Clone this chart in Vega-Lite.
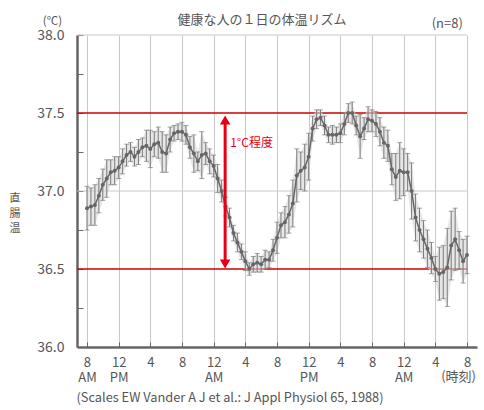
{
  "$schema": "https://vega.github.io/schema/vega-lite/v6.json",
  "description": "健康な人の1日の体温リズム",
  "autosize": "none",
  "width": 400,
  "height": 312,
  "padding": {"left": 77, "top": 35, "right": 7, "bottom": 63},
  "title": {
    "text": "健康な人の１日の体温リズム",
    "fontSize": 13,
    "fontWeight": "normal",
    "color": "#555",
    "anchor": "middle",
    "offset": -12,
    "dx": -15
  },
  "config": {
    "font": "Noto Sans CJK JP",
    "view": {"stroke": null}
  },
  "datasets": {
    "series": [
      {"hour": 8.0, "temp": 36.89, "sd": 0.14},
      {"hour": 8.5, "temp": 36.90, "sd": 0.12},
      {"hour": 9.0, "temp": 36.91, "sd": 0.13},
      {"hour": 9.5, "temp": 36.97, "sd": 0.11},
      {"hour": 10.0, "temp": 37.04, "sd": 0.10},
      {"hour": 10.5, "temp": 37.08, "sd": 0.12},
      {"hour": 11.0, "temp": 37.12, "sd": 0.08},
      {"hour": 11.5, "temp": 37.13, "sd": 0.09},
      {"hour": 12.0, "temp": 37.15, "sd": 0.07},
      {"hour": 12.5, "temp": 37.19, "sd": 0.08},
      {"hour": 13.0, "temp": 37.23, "sd": 0.07},
      {"hour": 13.5, "temp": 37.25, "sd": 0.06},
      {"hour": 14.0, "temp": 37.22, "sd": 0.06},
      {"hour": 14.5, "temp": 37.25, "sd": 0.08},
      {"hour": 15.0, "temp": 37.28, "sd": 0.06},
      {"hour": 15.5, "temp": 37.29, "sd": 0.10},
      {"hour": 16.0, "temp": 37.27, "sd": 0.12},
      {"hour": 16.5, "temp": 37.30, "sd": 0.08},
      {"hour": 17.0, "temp": 37.31, "sd": 0.10},
      {"hour": 17.5, "temp": 37.25, "sd": 0.13},
      {"hour": 18.0, "temp": 37.24, "sd": 0.12},
      {"hour": 18.5, "temp": 37.33, "sd": 0.08},
      {"hour": 19.0, "temp": 37.37, "sd": 0.05},
      {"hour": 19.5, "temp": 37.38, "sd": 0.05},
      {"hour": 20.0, "temp": 37.38, "sd": 0.06},
      {"hour": 20.5, "temp": 37.36, "sd": 0.06},
      {"hour": 21.0, "temp": 37.28, "sd": 0.07},
      {"hour": 21.5, "temp": 37.24, "sd": 0.12},
      {"hour": 22.0, "temp": 37.19, "sd": 0.06},
      {"hour": 22.5, "temp": 37.23, "sd": 0.15},
      {"hour": 23.0, "temp": 37.24, "sd": 0.07},
      {"hour": 23.5, "temp": 37.19, "sd": 0.08},
      {"hour": 24.0, "temp": 37.16, "sd": 0.07},
      {"hour": 24.5, "temp": 37.08, "sd": 0.09},
      {"hour": 25.0, "temp": 37.00, "sd": 0.07},
      {"hour": 25.5, "temp": 36.90, "sd": 0.06},
      {"hour": 26.0, "temp": 36.83, "sd": 0.06},
      {"hour": 26.5, "temp": 36.73, "sd": 0.05},
      {"hour": 27.0, "temp": 36.67, "sd": 0.06},
      {"hour": 27.5, "temp": 36.61, "sd": 0.05},
      {"hour": 28.0, "temp": 36.55, "sd": 0.06},
      {"hour": 28.5, "temp": 36.50, "sd": 0.04},
      {"hour": 29.0, "temp": 36.53, "sd": 0.05},
      {"hour": 29.5, "temp": 36.54, "sd": 0.06},
      {"hour": 30.0, "temp": 36.53, "sd": 0.05},
      {"hour": 30.5, "temp": 36.56, "sd": 0.06},
      {"hour": 31.0, "temp": 36.56, "sd": 0.05},
      {"hour": 31.5, "temp": 36.62, "sd": 0.07},
      {"hour": 32.0, "temp": 36.70, "sd": 0.10},
      {"hour": 32.5, "temp": 36.78, "sd": 0.08},
      {"hour": 33.0, "temp": 36.80, "sd": 0.10},
      {"hour": 33.5, "temp": 36.85, "sd": 0.12},
      {"hour": 34.0, "temp": 36.92, "sd": 0.15},
      {"hour": 34.5, "temp": 37.10, "sd": 0.17},
      {"hour": 35.0, "temp": 37.13, "sd": 0.12},
      {"hour": 35.5, "temp": 37.15, "sd": 0.15},
      {"hour": 36.0, "temp": 37.22, "sd": 0.15},
      {"hour": 36.5, "temp": 37.40, "sd": 0.08},
      {"hour": 37.0, "temp": 37.46, "sd": 0.06},
      {"hour": 37.5, "temp": 37.47, "sd": 0.05},
      {"hour": 38.0, "temp": 37.42, "sd": 0.06},
      {"hour": 38.5, "temp": 37.36, "sd": 0.05},
      {"hour": 39.0, "temp": 37.36, "sd": 0.06},
      {"hour": 39.5, "temp": 37.36, "sd": 0.05},
      {"hour": 40.0, "temp": 37.37, "sd": 0.06},
      {"hour": 40.5, "temp": 37.43, "sd": 0.07},
      {"hour": 41.0, "temp": 37.50, "sd": 0.06},
      {"hour": 41.5, "temp": 37.50, "sd": 0.07},
      {"hour": 42.0, "temp": 37.42, "sd": 0.06},
      {"hour": 42.5, "temp": 37.35, "sd": 0.14},
      {"hour": 43.0, "temp": 37.40, "sd": 0.07},
      {"hour": 43.5, "temp": 37.46, "sd": 0.08},
      {"hour": 44.0, "temp": 37.45, "sd": 0.07},
      {"hour": 44.5, "temp": 37.43, "sd": 0.08},
      {"hour": 45.0, "temp": 37.38, "sd": 0.09},
      {"hour": 45.5, "temp": 37.31, "sd": 0.10},
      {"hour": 46.0, "temp": 37.29, "sd": 0.10},
      {"hour": 46.5, "temp": 37.14, "sd": 0.10},
      {"hour": 47.0, "temp": 37.09, "sd": 0.15},
      {"hour": 47.5, "temp": 37.13, "sd": 0.18},
      {"hour": 48.0, "temp": 37.12, "sd": 0.15},
      {"hour": 48.5, "temp": 37.12, "sd": 0.12},
      {"hour": 49.0, "temp": 37.00, "sd": 0.18},
      {"hour": 49.5, "temp": 36.83, "sd": 0.15},
      {"hour": 50.0, "temp": 36.75, "sd": 0.14},
      {"hour": 50.5, "temp": 36.69, "sd": 0.12},
      {"hour": 51.0, "temp": 36.63, "sd": 0.12},
      {"hour": 51.5, "temp": 36.57, "sd": 0.10},
      {"hour": 52.0, "temp": 36.50, "sd": 0.08},
      {"hour": 52.5, "temp": 36.47, "sd": 0.17},
      {"hour": 53.0, "temp": 36.48, "sd": 0.17},
      {"hour": 53.5, "temp": 36.51, "sd": 0.25},
      {"hour": 54.0, "temp": 36.65, "sd": 0.22},
      {"hour": 54.5, "temp": 36.69, "sd": 0.20},
      {"hour": 55.0, "temp": 36.62, "sd": 0.12},
      {"hour": 55.5, "temp": 36.55, "sd": 0.14},
      {"hour": 56.0, "temp": 36.59, "sd": 0.12}
    ],
    "hlines": [
      {"hour": 6.74, "hourEnd": 56, "temp": 38.0, "kind": "grid"},
      {"hour": 6.74, "hourEnd": 56, "temp": 37.0, "kind": "grid"},
      {"hour": 6.74, "hourEnd": 56, "temp": 37.5, "kind": "ref"},
      {"hour": 6.74, "hourEnd": 56, "temp": 36.5, "kind": "ref"}
    ],
    "arrowShaft": [
      {"hour": 25.45, "temp": 37.45, "tempEnd": 36.54}
    ],
    "arrowHeads": [
      {"hour": 25.45, "temp": 37.455, "shape": "triangle-up"},
      {"hour": 25.45, "temp": 36.532, "shape": "triangle-down"}
    ],
    "arrowLabel": [
      {"hour": 25.45, "temp": 37.31, "label": "1°C程度"}
    ],
    "notes": [
      {"hour": 53.5, "temp": 38.07, "label": "(n=8)", "size": 13},
      {"hour": -1.1, "temp": 36.95, "label": "直\n腸\n温", "size": 11},
      {"hour": 54.93, "temp": 35.81, "label": "(時刻)", "size": 13}
    ]
  },
  "encoding": {
    "x": {
      "field": "hour",
      "type": "quantitative",
      "scale": {"domain": [6.74, 57.26], "nice": false, "zero": false},
      "axis": {
        "values": [8, 12, 16, 20, 24, 28, 32, 36, 40, 44, 48, 52, 56],
        "labelExpr": "datum.value == 8 ? ['8', 'AM'] : datum.value == 12 ? ['12', 'PM'] : datum.value == 24 ? ['12', 'AM'] : datum.value == 36 ? ['12', 'PM'] : datum.value == 48 ? ['12', 'AM'] : '' + (datum.value % 12 == 0 ? 12 : datum.value % 12)",
        "grid": true,
        "gridColor": "#c8c8c8",
        "gridWidth": 1,
        "tickSize": -5,
        "tickColor": "#666",
        "domainColor": "#666",
        "domainWidth": 2.5,
        "labelFontSize": 13,
        "labelLineHeight": 15,
        "labelColor": "#555",
        "labelBaseline": "top",
        "labelPadding": 14,
        "labelFlush": false,
        "labelOverlap": false,
        "title": "(Scales EW Vander A J et al.: J Appl Physiol 65, 1988)",
        "titleX": -1,
        "titleY": 50,
        "titleAlign": "left",
        "titleBaseline": "middle",
        "titleFontSize": 12.8,
        "titleFontWeight": "normal",
        "titleColor": "#555"
      }
    },
    "y": {
      "field": "temp",
      "type": "quantitative",
      "scale": {"domain": [36, 38], "nice": false, "zero": false},
      "axis": {
        "values": [36, 36.25, 36.5, 36.75, 37, 37.25, 37.5, 37.75, 38],
        "labelExpr": "(datum.value * 2) % 1 == 0 ? format(datum.value, '.1f') : ''",
        "grid": false,
        "tickSize": -6,
        "tickColor": "#666",
        "domainColor": "#666",
        "domainWidth": 2.5,
        "labelFontSize": 14,
        "labelColor": "#555",
        "labelPadding": 19,
        "title": "(℃)",
        "titleAngle": 0,
        "titleX": -25,
        "titleY": -14,
        "titleAlign": "center",
        "titleBaseline": "middle",
        "titleFontSize": 11.5,
        "titleFontWeight": "normal",
        "titleColor": "#555"
      }
    }
  },
  "layer": [
    {
      "data": {"name": "hlines"},
      "mark": {"type": "rule"},
      "encoding": {
        "x2": {"field": "hourEnd"},
        "color": {
          "field": "kind",
          "type": "nominal",
          "scale": {"domain": ["grid", "ref"], "range": ["#c8c8c8", "#cc0000"]},
          "legend": null
        },
        "strokeWidth": {
          "field": "kind",
          "type": "nominal",
          "scale": {"domain": ["grid", "ref"], "range": [1, 1.5]},
          "legend": null
        }
      }
    },
    {
      "data": {"name": "series"},
      "mark": {"type": "errorband", "band": {"color": "#d6d6d6", "opacity": 0.6}},
      "encoding": {"yError": {"field": "sd"}}
    },
    {
      "data": {"name": "series"},
      "mark": {
        "type": "errorbar",
        "rule": {"color": "#7a7a7a", "strokeWidth": 1},
        "ticks": {"color": "#7a7a7a", "size": 5}
      },
      "encoding": {"yError": {"field": "sd"}}
    },
    {
      "data": {"name": "series"},
      "mark": {"type": "line", "color": "#666", "strokeWidth": 1.5}
    },
    {
      "data": {"name": "series"},
      "mark": {"type": "point", "filled": true, "size": 16, "color": "#666", "opacity": 1}
    },
    {
      "data": {"name": "arrowShaft"},
      "mark": {"type": "rule", "color": "#e60012", "strokeWidth": 3},
      "encoding": {"y2": {"field": "tempEnd"}}
    },
    {
      "data": {"name": "arrowHeads"},
      "mark": {"type": "point", "filled": true, "size": 110, "color": "#e60012", "opacity": 1},
      "encoding": {
        "shape": {"field": "shape", "type": "nominal", "scale": null}
      }
    },
    {
      "data": {"name": "arrowLabel"},
      "mark": {"type": "text", "align": "left", "baseline": "middle", "dx": 5, "fontSize": 12, "color": "#e60012"},
      "encoding": {"text": {"field": "label"}}
    },
    {
      "data": {"name": "notes"},
      "mark": {"type": "text", "align": "center", "baseline": "middle", "lineHeight": 15, "lineBreak": "\n", "color": "#555", "clip": false},
      "encoding": {
        "text": {"field": "label"},
        "size": {"field": "size", "type": "quantitative", "scale": null}
      }
    }
  ]
}
